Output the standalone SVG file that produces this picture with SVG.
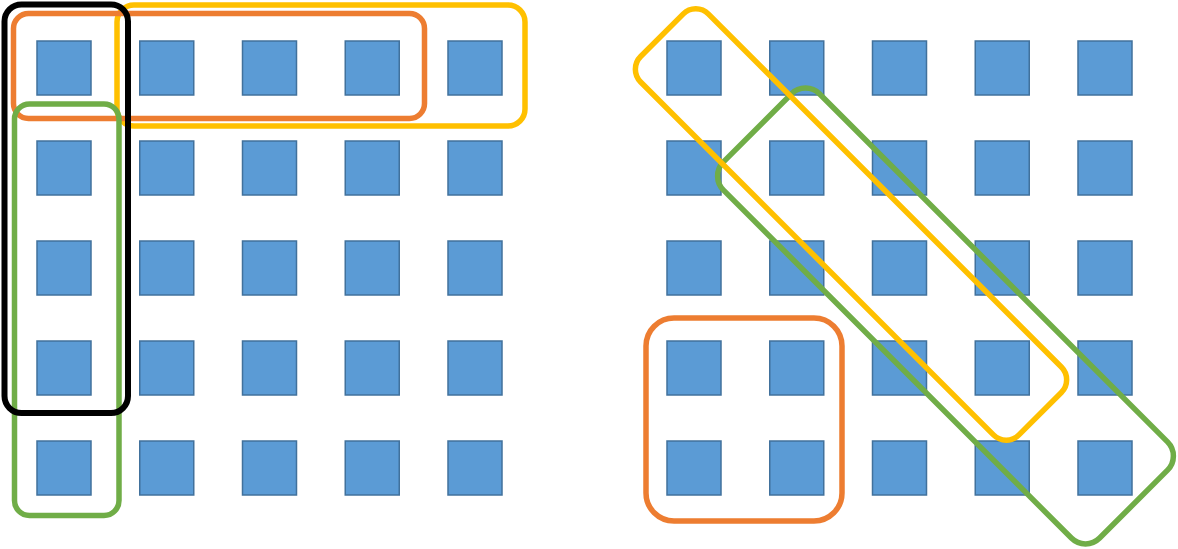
<svg xmlns="http://www.w3.org/2000/svg" width="1178" height="549" viewBox="0 0 1178 549">
<style>
.sq{fill:#5B9BD5;stroke:#41719C;stroke-width:1.5}
.g{fill:none;stroke-width:5.5}
.or{stroke:#ED7D31}
.ye{stroke:#FFC000}
.gr{stroke:#70AD47}
.bk{stroke:#000000;stroke-width:6}
</style>
<defs>
<rect id="s" class="sq" width="54" height="54"/>
</defs>
<rect width="1178" height="549" fill="#FFFFFF"/>
<g id="left-grid">
<use href="#s" x="37" y="41"/><use href="#s" x="139.75" y="41"/><use href="#s" x="242.5" y="41"/><use href="#s" x="345.25" y="41"/><use href="#s" x="448" y="41"/>
<use href="#s" x="37" y="141"/><use href="#s" x="139.75" y="141"/><use href="#s" x="242.5" y="141"/><use href="#s" x="345.25" y="141"/><use href="#s" x="448" y="141"/>
<use href="#s" x="37" y="241"/><use href="#s" x="139.75" y="241"/><use href="#s" x="242.5" y="241"/><use href="#s" x="345.25" y="241"/><use href="#s" x="448" y="241"/>
<use href="#s" x="37" y="341"/><use href="#s" x="139.75" y="341"/><use href="#s" x="242.5" y="341"/><use href="#s" x="345.25" y="341"/><use href="#s" x="448" y="341"/>
<use href="#s" x="37" y="441"/><use href="#s" x="139.75" y="441"/><use href="#s" x="242.5" y="441"/><use href="#s" x="345.25" y="441"/><use href="#s" x="448" y="441"/>
</g>
<g id="right-grid">
<use href="#s" x="667" y="41"/><use href="#s" x="769.75" y="41"/><use href="#s" x="872.5" y="41"/><use href="#s" x="975.25" y="41"/><use href="#s" x="1078" y="41"/>
<use href="#s" x="667" y="141"/><use href="#s" x="769.75" y="141"/><use href="#s" x="872.5" y="141"/><use href="#s" x="975.25" y="141"/><use href="#s" x="1078" y="141"/>
<use href="#s" x="667" y="241"/><use href="#s" x="769.75" y="241"/><use href="#s" x="872.5" y="241"/><use href="#s" x="975.25" y="241"/><use href="#s" x="1078" y="241"/>
<use href="#s" x="667" y="341"/><use href="#s" x="769.75" y="341"/><use href="#s" x="872.5" y="341"/><use href="#s" x="975.25" y="341"/><use href="#s" x="1078" y="341"/>
<use href="#s" x="667" y="441"/><use href="#s" x="769.75" y="441"/><use href="#s" x="872.5" y="441"/><use href="#s" x="975.25" y="441"/><use href="#s" x="1078" y="441"/>
</g>
<g id="left-groups">
<rect id="left-yellow" class="g ye" x="117" y="5" width="408" height="121" rx="17"/>
<rect id="left-orange" class="g or" x="13.5" y="13.5" width="411" height="105" rx="15"/>
<rect id="left-green" class="g gr" x="14.5" y="104" width="104.5" height="411.5" rx="15"/>
<rect id="left-black" class="g bk" x="4.5" y="4.5" width="123.5" height="408.5" rx="17"/>
</g>
<g id="right-groups">
<rect id="right-orange" class="g or" x="646" y="318" width="196" height="203" rx="28"/>
<rect id="right-green" class="g gr" x="-266" y="-68" width="532" height="136" rx="20" transform="translate(945.5 316) rotate(45)"/>
<rect id="right-yellow" class="g ye" x="-267.5" y="-48" width="535" height="96" rx="18" transform="translate(851 224.5) rotate(45)"/>
</g>
</svg>
